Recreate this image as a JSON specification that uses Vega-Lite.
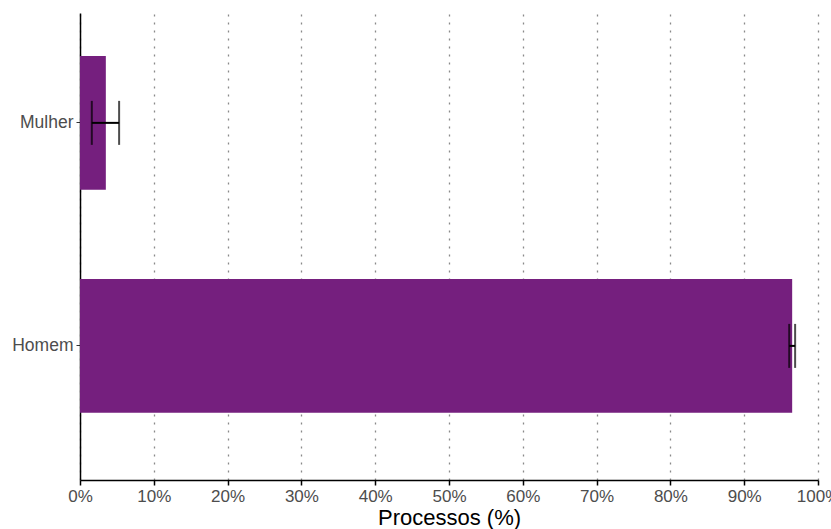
{
  "$schema": "https://vega.github.io/schema/vega-lite/v6.json",
  "width": 738,
  "height": 467,
  "autosize": "none",
  "padding": {"left": 80, "top": 13, "right": 13, "bottom": 49},
  "background": "white",
  "config": {
    "view": {"stroke": null},
    "font": "Liberation Sans"
  },
  "data": {
    "values": [
      {"sexo": "Mulher", "pct": 3.5, "lo": 1.6, "hi": 5.3},
      {"sexo": "Homem", "pct": 96.5, "lo": 96.1, "hi": 96.9}
    ]
  },
  "encoding": {
    "y": {
      "field": "sexo",
      "type": "nominal",
      "sort": ["Mulher", "Homem"],
      "scale": {"paddingInner": 0.4, "paddingOuter": 0.247, "align": 0.39},
      "axis": {
        "title": null,
        "domainColor": "black",
        "domainWidth": 1.5,
        "tickColor": "#333333",
        "tickSize": 4,
        "labelFontSize": 17.5,
        "labelColor": "#4d4d4d",
        "labelPadding": 3,
        "grid": false
      }
    }
  },
  "layer": [
    {
      "mark": {"type": "bar", "color": "#751f7e"},
      "encoding": {
        "x": {
          "field": "pct",
          "type": "quantitative",
          "scale": {"domain": [0, 100], "nice": false},
          "axis": {
            "title": "Processos (%)",
            "titleFontSize": 22,
            "titleFontWeight": "normal",
            "titleColor": "black",
            "titlePadding": 3,
            "values": [0, 10, 20, 30, 40, 50, 60, 70, 80, 90, 100],
            "labelExpr": "datum.value + '%'",
            "labelFontSize": 17,
            "labelColor": "#4d4d4d",
            "labelPadding": 3,
            "labelOverlap": false,
            "labelFlush": false,
            "domainColor": "black",
            "domainWidth": 1.5,
            "tickColor": "black",
            "tickSize": 5,
            "tickWidth": 1.5,
            "grid": true,
            "gridColor": "#8a8a8a",
            "gridDash": [2, 6],
            "gridWidth": 1.3
          }
        }
      }
    },
    {
      "mark": {"type": "rule", "color": "black", "strokeWidth": 2},
      "encoding": {
        "x": {"field": "lo", "type": "quantitative"},
        "x2": {"field": "hi"}
      }
    },
    {
      "mark": {"type": "tick", "color": "black", "thickness": 2, "size": 44, "orient": "vertical"},
      "encoding": {
        "x": {"field": "lo", "type": "quantitative"}
      }
    },
    {
      "mark": {"type": "tick", "color": "black", "thickness": 2, "size": 44, "orient": "vertical"},
      "encoding": {
        "x": {"field": "hi", "type": "quantitative"}
      }
    }
  ]
}
